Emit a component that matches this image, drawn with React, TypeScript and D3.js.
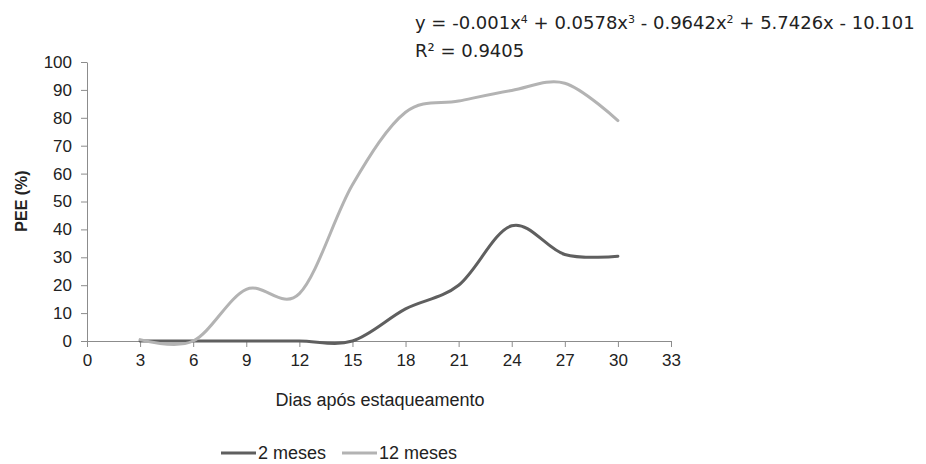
import React, { useEffect, useRef } from "react";
import * as d3 from "d3";

const days = [3, 6, 9, 12, 15, 18, 21, 24, 27, 30];
const twoMonths = [0, 0, 0, 0, 0, 11.5, 20, 41.3, 31, 30.4];
const twelveMonths = [0.5, 0, 18.5, 17, 56, 82, 86, 89.8, 92.4, 79];
const xTicks = [0, 3, 6, 9, 12, 15, 18, 21, 24, 27, 30, 33];
const yTicks = [0, 10, 20, 30, 40, 50, 60, 70, 80, 90, 100];

const series = [
  { name: "2 meses", values: twoMonths, color: "#5f5f5f" },
  { name: "12 meses", values: twelveMonths, color: "#b3b3b3" },
];

const App = () => {
  const ref = useRef<SVGSVGElement>(null);

  useEffect(() => {
    const svg = d3.select(ref.current);
    svg.selectAll("*").remove();

    const left = 87, right = 671, top = 62, bottom = 341;
    const font = "'Liberation Sans', Arial, sans-serif";

    const x = d3.scaleLinear().domain([0, 33]).range([left, right]);
    const y = d3.scaleLinear().domain([0, 100]).range([bottom, top]);

    // axes
    const xAxis = svg.append("g")
      .attr("transform", `translate(0,${bottom})`)
      .call(d3.axisBottom(x).tickValues(xTicks).tickSize(6).tickSizeOuter(0).tickPadding(7));
    xAxis.select(".domain").attr("stroke", "#8c8c8c");
    xAxis.selectAll(".tick line").attr("stroke", "#8c8c8c");
    xAxis.selectAll(".tick text").attr("font-size", 17).attr("font-family", font).attr("fill", "#222");

    const yAxis = svg.append("g")
      .attr("transform", `translate(${left},0)`)
      .call(d3.axisLeft(y).tickValues(yTicks).tickSize(6).tickSizeOuter(0).tickPadding(9));
    yAxis.select(".domain").attr("stroke", "#8c8c8c");
    yAxis.selectAll(".tick line").attr("stroke", "#8c8c8c");
    yAxis.selectAll(".tick text").attr("font-size", 17).attr("font-family", font).attr("fill", "#222");

    // lines
    const line = d3.line<number>()
      .x((_, i) => x(days[i]))
      .y(d => y(d))
      .curve(d3.curveCardinal.tension(0));

    series.forEach(s => {
      svg.append("path")
        .datum(s.values)
        .attr("fill", "none")
        .attr("stroke", s.color)
        .attr("stroke-width", 3)
        .attr("stroke-linecap", "round")
        .attr("d", line);
    });

    // titles
    svg.append("text")
      .attr("x", 380).attr("y", 406)
      .attr("text-anchor", "middle")
      .attr("font-family", font).attr("font-size", 18).attr("fill", "#222")
      .text("Dias após estaqueamento");

    svg.append("text")
      .attr("transform", "translate(27,201) rotate(-90)")
      .attr("text-anchor", "middle")
      .attr("font-family", font).attr("font-size", 16).attr("font-weight", "bold").attr("fill", "#222")
      .text("PEE (%)");

    // trendline equation
    const eqFont = "'DejaVu Sans', sans-serif";
    const parts: [string, boolean][] = [
      ["y = -0.001x", false], ["4", true], [" + 0.0578x", false], ["3", true],
      [" - 0.9642x", false], ["2", true], [" + 5.7426x - 10.101", false],
    ];
    const eq = svg.append("text")
      .attr("x", 415).attr("y", 29)
      .attr("font-family", eqFont).attr("font-size", 18).attr("fill", "#222");
    parts.forEach(([t, sup], i) => {
      const prevSup = i > 0 && parts[i - 1][1];
      eq.append("tspan")
        .attr("font-size", sup ? 11 : 18)
        .attr("dy", sup ? -6 : prevSup ? 6 : 0)
        .text(t);
    });

    svg.append("text")
      .attr("x", 415).attr("y", 57)
      .attr("font-family", eqFont).attr("font-size", 18).attr("fill", "#222")
      .text("R² = 0.9405");

    // legend
    const lg = svg.append("g").attr("transform", "translate(0,459)");
    [{ s: series[0], x0: 221 }, { s: series[1], x0: 342 }].forEach(({ s, x0 }) => {
      lg.append("line")
        .attr("x1", x0).attr("x2", x0 + 35).attr("y1", -6).attr("y2", -6)
        .attr("stroke", s.color).attr("stroke-width", 3);
      lg.append("text")
        .attr("x", x0 + 37).attr("y", 0)
        .attr("font-family", font).attr("font-size", 18).attr("fill", "#222")
        .text(s.name);
    });
  }, []);

  return (
    <svg ref={ref} width={926} height={464}
      style={{ position: "absolute", left: 0, top: 0, background: "#fff" }} />
  );
};

export default App;
